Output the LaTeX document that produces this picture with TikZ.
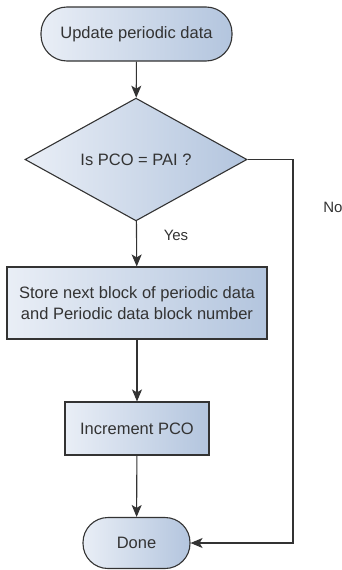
\documentclass[tikz,border=0pt]{standalone}
\usepackage{fontspec}
\setmainfont{Liberation Sans}
\usetikzlibrary{shapes.geometric,arrows.meta}

\definecolor{boxlight}{HTML}{E9EEF6}
\definecolor{boxdark}{HTML}{B3C5DE}
\definecolor{edgegray}{HTML}{333333}
\definecolor{textgray}{HTML}{333333}

\tikzset{
    shape base/.style={draw=edgegray, line width=1.1pt, left color=boxlight, right color=boxdark,
        text=textgray, font=\fontsize{16.5}{21.5}\selectfont, align=center, inner sep=0pt},
    terminal/.style={shape base, rectangle, rounded corners=26pt},
    decision/.style={shape base, diamond},
    process/.style={shape base, rectangle},
    flow/.style={draw=edgegray, line width=1.1pt, -{Stealth[length=12pt,width=10pt,inset=3pt]}},
    label text/.style={text=textgray, font=\fontsize{15}{18}\selectfont}
}

\begin{document}
\begin{tikzpicture}[x=1pt, y=-1pt]
            \useasboundingbox (0, 0) rectangle (342, 570);

            \node[terminal, minimum width=191pt, minimum height=54pt] (update) at (136.5, 34) {Update periodic data};
            \node[decision, minimum width=222pt, minimum height=87pt] (check) at (136, 159.5) {Is PCO = PAI ?};
            \node[process, minimum width=260pt, minimum height=72pt] (store) at (137, 303) {Store next block of periodic data\\and Periodic data block number};
            \node[process, minimum width=144pt, minimum height=53pt] (incr) at (137, 428.5) {Increment PCO};
            \node[terminal, minimum width=107pt, minimum height=51pt, rounded corners=25pt] (done) at (136.5, 543) {Done};

            \coordinate (corner) at (293, 159.5);

            \draw[flow] (update) -- (check);
            \draw[flow] (check) -- (store);
            \draw[flow] (store) -- (incr);
            \draw[flow] (incr) -- (done);
            \draw[flow] (check.east) -- (corner) |- (done.east);

            \node[label text] (yes) at (176, 235) {Yes};
            \node[label text] (no) at (333, 207) {No};
        \end{tikzpicture}
\end{document}
